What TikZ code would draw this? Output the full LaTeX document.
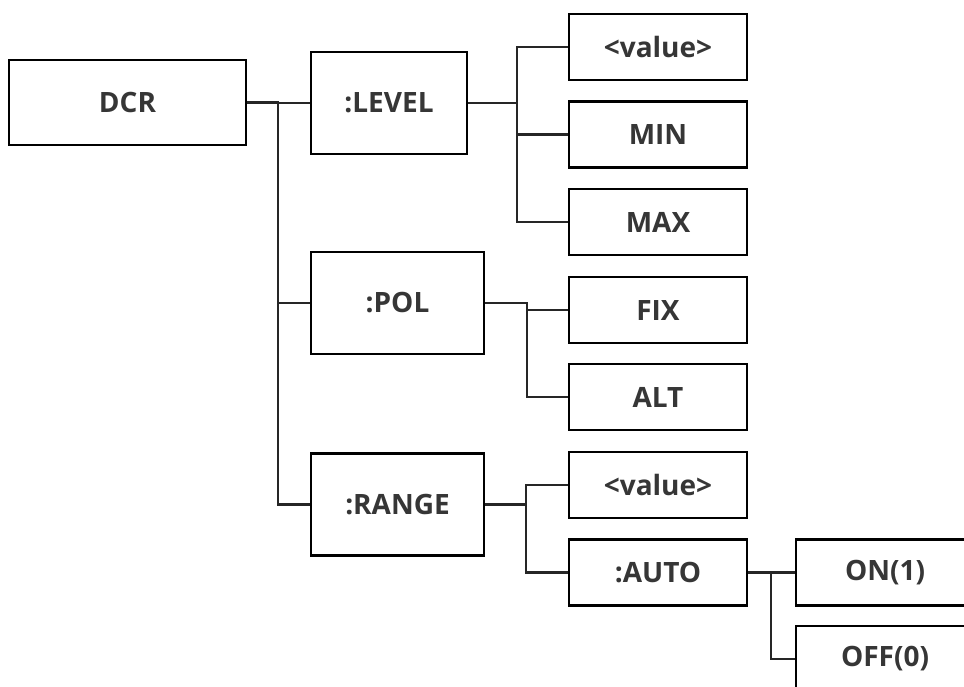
\documentclass[tikz,border=0pt]{standalone}
\usepackage{fontspec}
\setmainfont{Open Sans}
\definecolor{txt}{HTML}{363636}
\tikzstyle{cmd} = [draw=black, line width=2pt, text=txt, inner sep=0pt,
    font=\bfseries\fontsize{21}{25}\selectfont]
\tikzstyle{root} = [cmd, minimum width=177.75pt, minimum height=63.75pt]
\tikzstyle{mid} = [cmd, minimum width=129.75pt, minimum height=76.5pt]
\tikzstyle{leaf} = [cmd, minimum width=133.5pt, minimum height=49.5pt]
\tikzstyle{wire} = [line width=1.7pt, black!85]

\begin{document}
\begin{tikzpicture}[x=0.75pt, y=-0.75pt]
\useasboundingbox (0,0) rectangle (964,686);
\clip (0,0) rectangle (964,686);
%wortel
\node[root] (dcr) at (127.5,102.5) {DCR};
\coordinate (trunk) at (278,0);
%begin level1
\node[mid, minimum width=117pt] (lvl) at (389,103) {:LEVEL};
\node[mid] (pol) at (397.5,303) {:POL};
\node[mid] (rng) at (397.5,504.5) {:RANGE};
\draw[wire] (dcr.east) -- (dcr.east -| trunk) |- (lvl.west);
\draw[wire] (dcr.east -| trunk) |- (pol.west);
\draw[wire] (dcr.east -| trunk) |- (rng.west);
%end level1
%begin level2-LEVEL
\coordinate (lvlbus) at (517,0);
\node[leaf] (lvlval) at (658,47) {<value>};
\node[leaf] (lvlmin) at (658,134.5) {MIN};
\node[leaf] (lvlmax) at (658,222) {MAX};
\foreach \kid in {lvlval, lvlmin, lvlmax}
    \draw[wire] (lvl.east) -- (lvl.east -| lvlbus) |- (\kid.west);
%end level2-LEVEL
%begin level2-POL
\coordinate (polbus) at (527,0);
\node[leaf] (polfix) at (658,310) {FIX};
\node[leaf] (polalt) at (658,397) {ALT};
\foreach \kid in {polfix, polalt}
    \draw[wire] (pol.east) -- (pol.east -| polbus) |- (\kid.west);
%end level2-POL
%begin level2-RANGE
\coordinate (rngbus) at (526,0);
\node[leaf] (rngval) at (658,485) {<value>};
\node[leaf] (auto) at (658,572.5) {:AUTO};
\foreach \kid in {rngval, auto}
    \draw[wire] (rng.east) -- (rng.east -| rngbus) |- (\kid.west);
%end level2-RANGE
%begin level3-AUTO
\coordinate (autobus) at (771,0);
\node[leaf] (on) at (885,572.5) {ON(1)};
\node[leaf] (off) at (885,659) {OFF(0)};
\foreach \kid in {on, off}
    \draw[wire] (auto.east) -- (auto.east -| autobus) |- (\kid.west);
%end level3-AUTO
%end wortel
\end{tikzpicture}
\end{document}
